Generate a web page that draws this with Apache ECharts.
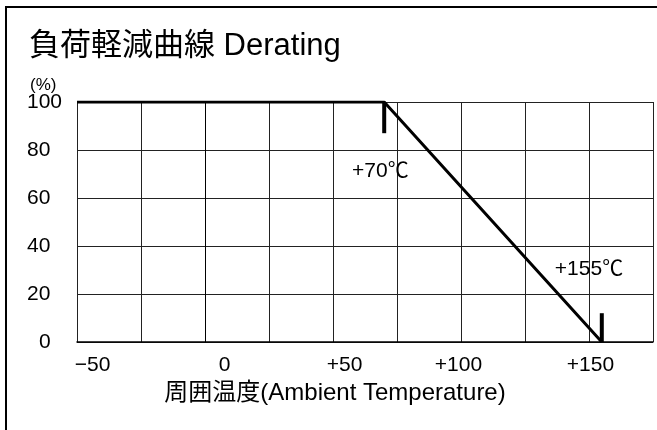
<!DOCTYPE html>
<html>
<head>
<meta charset="utf-8">
<script src="https://cdn.jsdelivr.net/npm/echarts@6/dist/echarts.min.js"></script>
<style>
html,body{margin:0;padding:0;background:#fff;}
#c{width:657px;height:430px;}
</style>
</head>
<body>
<div id="c"></div>
<script>
// ---- data ----
const curveTemp = [-50, 70, 155];
const curveLoad = [100, 100, 0];
const marker70 = [[70, 100], [70, 87]];
const marker155 = [[155, 0], [155, 12]];
const annotations = [
  { name: '+70℃', value: [68.5, 71] },
  { name: '+155℃', value: [150, 30.5] }
];
const xTickValues = [-50, 0, 50, 100, 150];
const xTickLabels = ['−50', '0', '+50', '+100', '+150'];
const yTickLabels = ['0', '20', '40', '60', '80', '100'];

const FONT = "'Liberation Sans', 'Noto Sans CJK JP', sans-serif";
const xLabelStyle = { '-50': 'a', '0': 'b', '50': 'c', '100': 'd', '150': 'e' };

const chart = echarts.init(document.getElementById('c'), null, { renderer: 'canvas' });
chart.setOption({
  animation: false,
  backgroundColor: '#fff',
  title: [
    { text: '負荷軽減曲線 Derating', left: 24, top: 26,
      textStyle: { fontFamily: FONT, fontSize: 31, fontWeight: 'normal', color: '#000' } },
    { text: '(%)', left: 25, top: 72,
      textStyle: { fontFamily: FONT, fontSize: 17, fontWeight: 'normal', color: '#000' } }
  ],
  graphic: [
    { type: 'rect', shape: { x: 6, y: 7, width: 700, height: 500 },
      style: { fill: 'none', stroke: '#000', lineWidth: 2 }, z: 100, silent: true }
  ],
  grid: { left: 77, top: 102, right: 4, bottom: 88, containLabel: false },
  xAxis: {
    type: 'value', min: -50, max: 175, interval: 25,
    name: '周囲温度(Ambient Temperature)', nameLocation: 'middle', nameGap: 37,
    nameTextStyle: { fontFamily: FONT, fontSize: 24, color: '#000', padding: [0, 60, 0, 0] },
    axisLine: { show: true, lineStyle: { color: '#000', width: 1.5 } },
    axisTick: { show: false },
    splitLine: { show: true, lineStyle: { color: '#222', width: 1 } },
    axisLabel: {
      margin: 13, showMaxLabel: false, fontFamily: FONT, fontSize: 21, color: '#000',
      formatter: function (v) {
        const i = xTickValues.indexOf(v);
        if (i < 0) return '';
        return '{' + xLabelStyle[String(v)] + '|' + xTickLabels[i] + '}';
      },
      rich: {
        a: { fontFamily: FONT, fontSize: 21, color: '#000', padding: [0, 0, 0, 31] },
        b: { fontFamily: FONT, fontSize: 21, color: '#000', padding: [0, 0, 0, 39] },
        c: { fontFamily: FONT, fontSize: 21, color: '#000', padding: [0, 0, 0, 23] },
        d: { fontFamily: FONT, fontSize: 21, color: '#000', padding: [0, 5, 0, 0] },
        e: { fontFamily: FONT, fontSize: 21, color: '#000', padding: [0, 0, 0, 3] }
      }
    }
  },
  yAxis: {
    type: 'value', min: 0, max: 100, interval: 20,
    axisLine: { show: true, lineStyle: { color: '#000', width: 1 } },
    axisTick: { show: false },
    splitLine: { show: true, lineStyle: { color: '#222', width: 1 } },
    axisLabel: {
      margin: 50, align: 'left', fontFamily: FONT, fontSize: 21, color: '#000',
      formatter: function (v) {
        const s = yTickLabels[Math.round(v / 20)];
        return v === 0 ? '{z|' + s + '}' : s;
      },
      rich: { z: { fontFamily: FONT, fontSize: 21, color: '#000', padding: [0, 0, 0, 12] } }
    }
  },
  series: [
    { type: 'line', data: curveTemp.map((t, i) => [t, curveLoad[i]]), symbol: 'none',
      lineStyle: { color: '#000', width: 3 }, z: 5 },
    { type: 'line', data: marker70, symbol: 'none', lineStyle: { color: '#000', width: 4 }, z: 6 },
    { type: 'line', data: marker155, symbol: 'none', lineStyle: { color: '#000', width: 4 }, z: 6 },
    { type: 'scatter', data: annotations, symbolSize: 0, z: 7,
      itemStyle: { opacity: 1, color: '#000' },
      label: { show: true, position: 'inside', formatter: '{b}', opacity: 1,
        fontFamily: FONT, fontSize: 21, color: '#000' } }
  ]
});
</script>
</body>
</html>
